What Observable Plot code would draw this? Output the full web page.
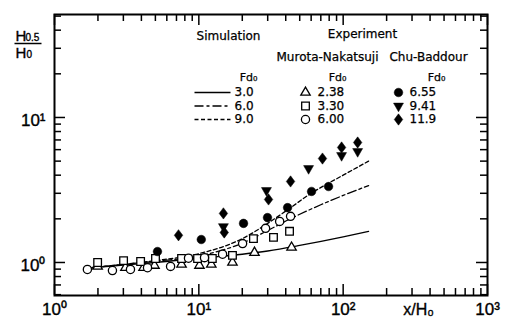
<!DOCTYPE html>
<html><head><meta charset="utf-8">
<script src="https://cdn.jsdelivr.net/npm/d3@7"></script>
<script src="https://cdn.jsdelivr.net/npm/@observablehq/plot@0.6"></script>
<style>body{margin:0;background:#fff}</style>
</head><body><div id="chart"></div>
<script>
// ---- data ----
const sim30 = [[1.8,0.92],[3,0.96],[5,1.0],[10,1.07],[20,1.14],[30,1.2],[50,1.31],[100,1.5],[150,1.64]];
const sim60 = [[1.8,0.92],[3,0.97],[5,1.02],[10,1.11],[20,1.36],[30,1.66],[43,2.0],[70,2.5],[100,2.9],[150,3.39]];
const sim90 = [[1.8,0.92],[3,0.97],[5,1.03],[10,1.15],[20,1.46],[30,1.86],[41,2.3],[60,3.0],[100,4.0],[150,5.0]];

const mn238 = [[1.99,0.94],[3.1,0.92],[4.14,0.92],[4.93,0.953],[7.59,0.97],[10.1,0.953],[12.2,0.97],[17.1,1.0],[24.3,1.17],[43.9,1.27]];
const mn330 = [[1.99,1.0],[3.01,1.03],[3.95,1.016],[5.01,1.065],[7.59,1.065],[9.8,1.065],[12.4,1.065],[17.1,1.12],[23.9,1.46],[32.9,1.49],[42.5,1.64]];
const mn600 = [[1.69,0.895],[2.52,0.88],[3.36,0.895],[4.41,0.92],[6.37,0.94],[8.48,1.07],[10.95,1.08],[14.6,1.14],[20.1,1.35],[29.0,1.72],[36.3,1.92],[43.2,2.08]];

const cb655 = [[5.17,1.19],[10.4,1.44],[20.4,1.86],[29.9,2.04],[41.2,2.39],[60.4,3.09],[79.2,3.34]];
const cb941 = [[14.8,1.77],[29.4,3.14],[57.6,4.45],[97.5,5.47],[126,5.83]];
const cb119 = [[7.23,1.54],[14.8,2.18],[15.0,1.61],[30.4,2.72],[43.2,3.62],[71.9,5.21],[97.5,6.21],[126,6.72]];

const xMajor = [1,10,100,1000];
const xMinor = [2,3,4,5,6,7,8,9,20,30,40,50,60,70,80,90,200,300,400,500,600,700,800,900];
const yMajor = [1,10];
const yMinor = [0.6,0.7,0.8,0.9,2,3,4,5,6,7,8,9,20,30,40,50];
const xLabels = ["10⁰","10¹","10²","10³"];
const yLabels = ["10⁰","10¹"];

const simNames = ["3.0","6.0","9.0"];
const mnNames = ["2.38","3.30","6.00"];
const cbNames = ["6.55","9.41","11.9"];

// ---- layout ----
const W = 510, H = 327, ML = 54, MR = 23, MT = 14, MB = 32;
const FW = W - ML - MR, FH = H - MT - MB;
const yDom = [0.592, 51.3];
// helpers for annotation placement (pixel -> data)
const px2x = p => 10 ** (3 * (p - ML) / FW);
const lyMin = Math.log10(yDom[0]), lyMax = Math.log10(yDom[1]);
const px2y = p => 10 ** (lyMin + (H - MB - p) / FH * (lyMax - lyMin));

const sqrt3 = Math.sqrt(3);
const invTri = {draw(ctx, size) {
  const y = -Math.sqrt(size / (sqrt3 * 3));
  ctx.moveTo(0, -y * 2); ctx.lineTo(-sqrt3 * y, y); ctx.lineTo(sqrt3 * y, y); ctx.closePath();
}};
const fatDiamond = {draw(ctx, size) {
  const a = Math.sqrt(size / 1.5), b = 0.75 * a;
  ctx.moveTo(0, -a); ctx.lineTo(b, 0); ctx.lineTo(0, a); ctx.lineTo(-b, 0); ctx.closePath();
}};

const P = a => a.map(([x, y]) => ({x, y}));
const lineStyle = {stroke: "black", strokeWidth: 1.3};
const dash60 = "9,3,3,3", dash90 = "4,2.5";
const openSt = {fill: "white", stroke: "black", strokeWidth: 1.3};
const numFont = "Liberation Sans, Arial, sans-serif";
const legFont = "DejaVu Sans, sans-serif";
const heavy = {stroke: "black", strokeWidth: 0.35};

const legRows = [92, 105.5, 119];
const simStyles = [{}, {strokeDasharray: dash60}, {strokeDasharray: dash90}];
const mnSym = [{symbol: "triangle", r: 3.5}, {symbol: "square", r: 4.3}, {symbol: "circle", r: 4.1}];
const cbSym = [{symbol: "circle", r: 4.3}, {symbol: invTri, r: 3.7}, {symbol: fatDiamond, r: 3.9}];

const marks = [];
// ticks (inward)
const tk = (len) => FH - len, tkw = (len) => FW - len;
const tickSt = {stroke: "black", strokeWidth: 1.5};
marks.push(
  Plot.tickX(xMinor, {x: d => d, insetTop: tk(7), ...tickSt}),
  Plot.tickX(xMinor, {x: d => d, insetBottom: tk(7), ...tickSt}),
  Plot.tickX(xMajor, {x: d => d, insetTop: tk(11), ...tickSt}),
  Plot.tickX(xMajor, {x: d => d, insetBottom: tk(11), ...tickSt}),
  Plot.tickY(yMinor, {y: d => d, insetRight: tkw(7), ...tickSt}),
  Plot.tickY(yMinor, {y: d => d, insetLeft: tkw(7), ...tickSt}),
  Plot.tickY(yMajor, {y: d => d, insetRight: tkw(11), ...tickSt}),
  Plot.tickY(yMajor, {y: d => d, insetLeft: tkw(11), ...tickSt}),
  Plot.frame({stroke: "black", strokeWidth: 2})
);
// tick labels
marks.push(
  Plot.text(xMajor, {x: d => d, text: (d, i) => xLabels[i], frameAnchor: "bottom", dy: 19, fontSize: 17, fontFamily: numFont, fill: "black", ...heavy}),
  Plot.text(yMajor, {y: d => d, text: (d, i) => yLabels[i], frameAnchor: "left", textAnchor: "end", dx: -9, dy: 3, fontSize: 17, fontFamily: numFont, fill: "black", ...heavy}),
  Plot.text(["x/H₀"], {x: px2x(418), frameAnchor: "bottom", dy: 19, fontSize: 16, fontFamily: numFont, fill: "black", ...heavy}),
  Plot.text(["H"], {x: px2x(15), y: px2y(40), textAnchor: "start", lineAnchor: "bottom", fontSize: 15, fontFamily: numFont, fill: "black", ...heavy}),
  Plot.text(["0.5"], {x: px2x(25), y: px2y(40), textAnchor: "start", lineAnchor: "bottom", fontSize: 10, fontFamily: numFont, fill: "black", ...heavy}),
  Plot.link([0], {x1: px2x(14), x2: px2x(41), y1: px2y(43), y2: px2y(43), stroke: "black", strokeWidth: 1.5}),
  Plot.text(["H"], {x: px2x(15), y: px2y(57), textAnchor: "start", lineAnchor: "bottom", fontSize: 15, fontFamily: numFont, fill: "black", ...heavy}),
  Plot.text(["0"], {x: px2x(26), y: px2y(57), textAnchor: "start", lineAnchor: "bottom", fontSize: 10, fontFamily: numFont, fill: "black", ...heavy})
);
// simulation curves
[sim30, sim60, sim90].forEach((s, i) => marks.push(Plot.line(P(s), {x: "x", y: "y", curve: "monotone-x", ...lineStyle, ...simStyles[i]})));
// experiment points
[mn238, mn330, mn600].forEach((s, i) => marks.push(Plot.dot(P(s), {x: "x", y: "y", ...mnSym[i], ...openSt})));
[cb655, cb941, cb119].forEach((s, i) => marks.push(Plot.dot(P(s), {x: "x", y: "y", ...cbSym[i], fill: "black", stroke: "black", strokeWidth: 0.5})));

// legend
const hdr = {fontFamily: legFont, fontSize: 12, fill: "black", lineAnchor: "middle", ...heavy, strokeWidth: 0.25};
marks.push(
  Plot.text(["Simulation"], {x: px2x(228), y: px2y(36), ...hdr}),
  Plot.text(["Experiment"], {x: px2x(362), y: px2y(34), ...hdr}),
  Plot.text(["Murota-Nakatsuji"], {x: px2x(327), y: px2y(57), ...hdr}),
  Plot.text(["Chu-Baddour"], {x: px2x(428), y: px2y(57), ...hdr}),
  Plot.text([248, 337, 436], {x: d => px2x(d), y: px2y(77), text: () => "Fd₀", ...hdr, fontSize: 11})
);
legRows.forEach((ry, i) => {
  marks.push(
    Plot.link([0], {x1: px2x(194), x2: px2x(230), y1: px2y(ry), y2: px2y(ry), ...lineStyle, ...simStyles[i]}),
    Plot.text([simNames[i]], {x: px2x(234), y: px2y(ry), textAnchor: "start", ...hdr, fontSize: 12, letterSpacing: 0.6}),
    Plot.dot([0], {x: px2x(305), y: px2y(ry), ...mnSym[i], ...openSt}),
    Plot.text([mnNames[i]], {x: px2x(317), y: px2y(ry), textAnchor: "start", ...hdr, fontSize: 12, letterSpacing: 1}),
    Plot.dot([0], {x: px2x(398), y: px2y(ry), ...cbSym[i], fill: "black", stroke: "black", strokeWidth: 0.5}),
    Plot.text([cbNames[i]], {x: px2x(409), y: px2y(ry), textAnchor: "start", ...hdr, fontSize: 12, letterSpacing: 1})
  );
});

const chart = Plot.plot({
  width: W, height: H,
  marginLeft: ML, marginRight: MR, marginTop: MT, marginBottom: MB,
  x: {type: "log", domain: [1, 1000], axis: null},
  y: {type: "log", domain: yDom, axis: null},
  style: {background: "white", overflow: "visible"},
  marks
});
document.getElementById("chart").appendChild(chart);
</script></body></html>
